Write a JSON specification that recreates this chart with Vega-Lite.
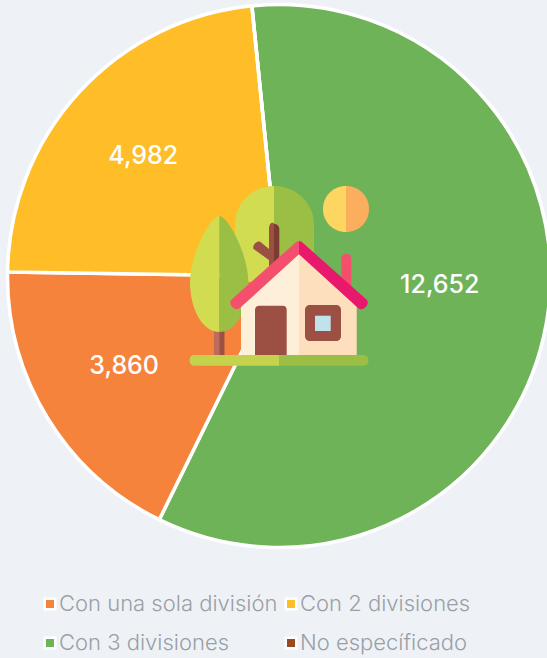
{"$schema":"https://vega.github.io/schema/vega-lite/v6.json","width":558,"height":552,"padding":{"left":0,"top":0,"right":0,"bottom":12},"autosize":{"type":"pad"},"background":"#eef2f6","config":{"view":{"stroke":null},"font":"Inter"},
"data":{"values":[{"categoria":"Con 3 divisiones","viviendas":12652,"orden":1},{"categoria":"Con una sola división","viviendas":3860,"orden":2},{"categoria":"Con 2 divisiones","viviendas":4982,"orden":3},{"categoria":"No específicado","viviendas":0,"orden":4}]},
"layer":[
{"mark":{"type":"arc","outerRadius":271.5,"stroke":"#ffffff","strokeWidth":3.5,"strokeJoin":"round"},
"encoding":{"theta":{"field":"viviendas","type":"quantitative","stack":true,"scale":{"range":[-0.1,6.183]}},"order":{"field":"orden","type":"ordinal"},
"color":{"field":"categoria","type":"nominal","scale":{"domain":["Con una sola división","Con 2 divisiones","Con 3 divisiones","No específicado"],"range":["#f5833c","#ffbd27","#6fb359","#9a4a20"]},
"legend":{"title":null,"orient":"none","direction":"horizontal","legendX":39,"legendY":593,"columns":2,"columnPadding":2,"rowPadding":17,"symbolType":"square","symbolSize":110,"symbolStrokeColor":"#ffffff","symbolStrokeWidth":2.5,"symbolOpacity":1,"labelFont":"Inter","labelFontWeight":300,"labelFontSize":22,"labelColor":"#9a9fa6","labelOffset":-2,"labelLimit":300,"symbolOffset":0}}}},
{"data":{"values":[{"viviendas":12652}]},"mark":{"type":"text","radius":161,"theta":1.627,"fill":"#ffffff","font":"Inter","fontWeight":500,"fontSize":25,"align":"center","baseline":"middle"},
"encoding":{"text":{"field":"viviendas","type":"quantitative","format":","}}},
{"data":{"values":[{"viviendas":3860}]},"mark":{"type":"text","radius":179,"theta":4.187,"fill":"#ffffff","font":"Inter","fontWeight":500,"fontSize":25,"align":"center","baseline":"middle"},
"encoding":{"text":{"field":"viviendas","type":"quantitative","format":","}}},
{"data":{"values":[{"viviendas":4982}]},"mark":{"type":"text","radius":181,"theta":5.435,"fill":"#ffffff","font":"Inter","fontWeight":500,"fontSize":25,"align":"center","baseline":"middle"},
"encoding":{"text":{"field":"viviendas","type":"quantitative","format":","}}},
{"data":{"values":[{"parte":"copa trasera izq"}]},"mark":{"type":"point","filled":true,"opacity":1,"size":4,"strokeWidth":0,"color":"#d1dc50","shape":"M-5 -90 C-27 -90 -44 -73 -44 -51 L-44 6 L-5 6 Z"}},
{"data":{"values":[{"parte":"copa trasera der"}]},"mark":{"type":"point","filled":true,"opacity":1,"size":4,"strokeWidth":0,"color":"#9bbf45","shape":"M-5 -90 C17 -90 35 -73 35 -51 L35 9 L-5 9 Z"}},
{"data":{"values":[{"parte":"tronco trasero izq"}]},"mark":{"type":"point","filled":true,"opacity":1,"size":4,"strokeWidth":0,"color":"#9b5043","shape":"M-10 -47 C-10 -54 -5 -54 -5 -52 L-5 -9 L-10 -9 L-10 -16 L-25.5 -27 C-27 -31 -22 -36 -18.5 -34 L-10 -27 Z"}},
{"data":{"values":[{"parte":"tronco trasero der"}]},"mark":{"type":"point","filled":true,"opacity":1,"size":4,"strokeWidth":0,"color":"#7b3a32","shape":"M-5 -52 C-2 -52 0.3 -50 0.3 -47 L0.3 -13 L-5 -9 Z"}},
{"data":{"values":[{"parte":"tronco izq a"}]},"mark":{"type":"point","filled":true,"opacity":1,"size":4,"strokeWidth":0,"color":"#bd6b5c","shape":"M-65 54 L-59.7 54 L-59.7 79 L-65 79 Z"}},
{"data":{"values":[{"parte":"tronco izq b"}]},"mark":{"type":"point","filled":true,"opacity":1,"size":4,"strokeWidth":0,"color":"#9b5043","shape":"M-59.7 54 L-54.5 54 L-54.5 79 L-59.7 79 Z"}},
{"data":{"values":[{"parte":"copa izq a"}]},"mark":{"type":"point","filled":true,"opacity":1,"size":4,"strokeWidth":0,"color":"#d1dc50","shape":"M-59.7 -60 C-69 -60 -89 -21 -89 5.7 C-89 34 -76 56 -59.7 56 Z"}},
{"data":{"values":[{"parte":"copa izq b"}]},"mark":{"type":"point","filled":true,"opacity":1,"size":4,"strokeWidth":0,"color":"#9bbf45","shape":"M-59.7 -60 C-51 -60 -30.7 -21 -30.7 5.7 C-30.7 34 -43 56 -59.7 56 Z"}},
{"data":{"values":[{"parte":"sol a"}]},"mark":{"type":"point","filled":true,"opacity":1,"size":4,"strokeWidth":0,"color":"#fcd660","shape":"M67 -90 C54 -90 44 -80 44 -67 C44 -54 54 -44 67 -44 Z"}},
{"data":{"values":[{"parte":"sol b"}]},"mark":{"type":"point","filled":true,"opacity":1,"size":4,"strokeWidth":0,"color":"#fbae5e","shape":"M67 -90 C80 -90 90 -80 90 -67 C90 -54 80 -44 67 -44 Z"}},
{"data":{"values":[{"parte":"chimenea"}]},"mark":{"type":"point","filled":true,"opacity":1,"size":4,"strokeWidth":0,"color":"#f4506e","shape":"M62.3 -17 C62.3 -24 72.3 -24 72.3 -17 L72.3 14 L62.3 14 Z"}},
{"data":{"values":[{"parte":"casa a"}]},"mark":{"type":"point","filled":true,"opacity":1,"size":4,"strokeWidth":0,"color":"#feefd8","shape":"M20 -25 L-38 25 L-38 79 L20 79 Z"}},
{"data":{"values":[{"parte":"casa b"}]},"mark":{"type":"point","filled":true,"opacity":1,"size":4,"strokeWidth":0,"color":"#fedfbd","shape":"M20 -25 L77.7 25 L77.7 79 L20 79 Z"}},
{"data":{"values":[{"parte":"techo a"}]},"mark":{"type":"point","filled":true,"opacity":1,"size":4,"strokeWidth":0,"color":"#f4506e","shape":"M20 -35 C18 -35 17 -34 16 -33 L-48 24 C-51 29 -44 36 -39 32 L20 -21.7 Z"}},
{"data":{"values":[{"parte":"techo b"}]},"mark":{"type":"point","filled":true,"opacity":1,"size":4,"strokeWidth":0,"color":"#e8196c","shape":"M20 -35 C22 -35 23 -34 24 -33 L88 24 C91 29 84 36 79 32 L20 -21.7 Z"}},
{"data":{"values":[{"parte":"puerta"}]},"mark":{"type":"point","filled":true,"opacity":1,"size":4,"strokeWidth":0,"color":"#9b5043","shape":"M-24 34 C-24 31 -22 29.7 -20 29.7 L4 29.7 C6 29.7 7.7 31 7.7 34 L7.7 79 L-24 79 Z"}},
{"data":{"values":[{"parte":"ventana"}]},"mark":{"type":"point","filled":true,"opacity":1,"size":4,"strokeWidth":0,"color":"#9b5043","shape":"M26 34 C26 31 28 29 31 29 L57 29 C60 29 62 31 62 34 L62 60 C62 63 60 65 57 65 L31 65 C28 65 26 63 26 60 Z"}},
{"data":{"values":[{"parte":"vidrio"}]},"mark":{"type":"point","filled":true,"opacity":1,"size":4,"strokeWidth":0,"color":"#bfe2ec","shape":"M36 39.7 L51.7 39.7 L51.7 55 L36 55 Z"}},
{"data":{"values":[{"parte":"suelo a"}]},"mark":{"type":"point","filled":true,"opacity":1,"size":4,"strokeWidth":0,"color":"#c4d24c","shape":"M0 79 L-85 79 C-91 79 -91 89.7 -85 89.7 L0 89.7 Z"}},
{"data":{"values":[{"parte":"suelo b"}]},"mark":{"type":"point","filled":true,"opacity":1,"size":4,"strokeWidth":0,"color":"#9bbf45","shape":"M0 79 L85 79 C91 79 91 89.7 85 89.7 L0 89.7 Z"}}
]}
